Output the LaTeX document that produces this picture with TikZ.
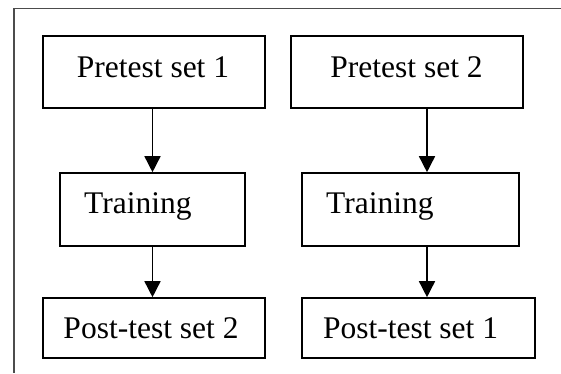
\documentclass[tikz,border=0pt]{standalone}
\usepackage{fontspec}
\setmainfont{Liberation Serif}
\usetikzlibrary{arrows.meta}
\begin{document}
\begin{tikzpicture}[x=1pt,y=-1pt,
  box/.style={draw, line width=1.6pt, rectangle, inner sep=0pt},
  lbl/.style={inner sep=0pt, font=\fontsize{31.5}{36}\selectfont},
  arr/.style={draw, line width=1.5pt, -{Triangle[width=16pt,length=16pt]}},
  frameline/.style={line width=1.7pt, draw=black!70}]
\useasboundingbox (0,0) rectangle (561,373);

% open frame: top and left edges only
\coordinate (fcorner) at (14,8.5);
\coordinate (fright) at (561,8.5);
\coordinate (fbottom) at (14,373);
\draw[frameline] (fright) -- (fcorner) -- (fbottom);

% boxes
\node[box, minimum width=222pt, minimum height=72pt] (p1) at (154,72) {};
\node[box, minimum width=232pt, minimum height=72pt] (p2) at (407,72) {};
\node[box, minimum width=185pt, minimum height=73pt] (tr1) at (152.5,209.5) {};
\node[box, minimum width=217pt, minimum height=73pt] (tr2) at (410.5,209.5) {};
\node[box, minimum width=222pt, minimum height=60pt] (q1) at (154,328) {};
\node[box, minimum width=233pt, minimum height=60pt] (q2) at (418.5,328) {};

% labels
\node[lbl, anchor=base] (tp1) at (153,77) {Pretest set 1};
\node[lbl, anchor=base] (tp2) at (406.5,77) {Pretest set 2};
\node[lbl, anchor=base west] (ttr1) at (84,213) {Training};
\node[lbl, anchor=base west] (ttr2) at (326,213) {Training};
\node[lbl, anchor=base] (tq1) at (151,338) {Post-test set 2};
\node[lbl, anchor=base] (tq2) at (410.5,338) {Post-test set 1};

% connectors
\draw[arr] (p1.south -| tr1.north) -- (tr1.north);
\draw[arr] (tr1.south) -- (tr1.south |- q1.north);
\draw[arr] ([xshift=20pt]p2.south) -- ([xshift=16.5pt]tr2.north);
\draw[arr] ([xshift=16.5pt]tr2.south) -- ([xshift=8.5pt]q2.north);
\end{tikzpicture}
\end{document}
